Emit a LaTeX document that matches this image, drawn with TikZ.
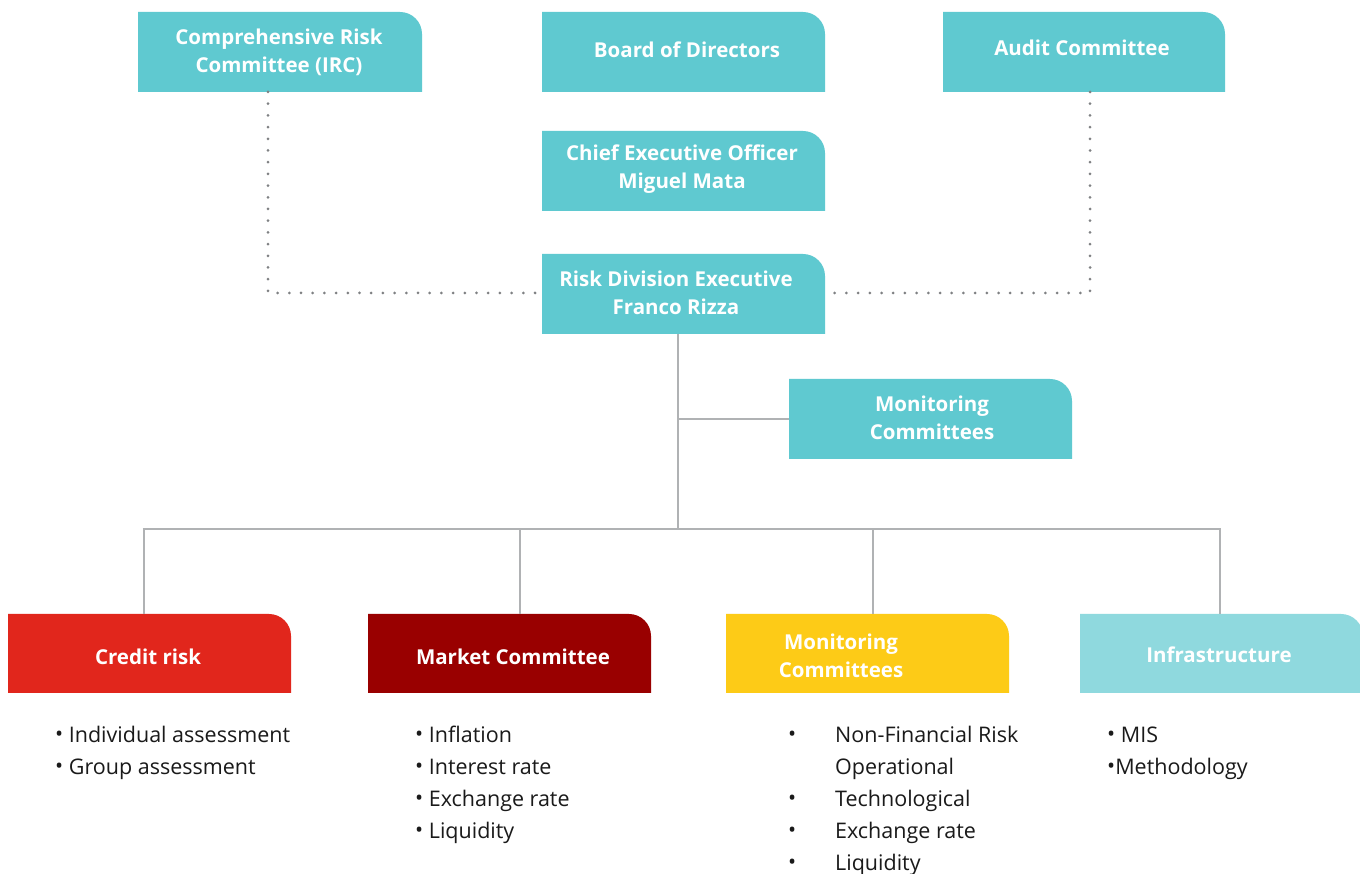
\documentclass[tikz,border=0pt]{standalone}
\usepackage{fontspec}
\setmainfont{Open Sans}
\definecolor{teal1}{HTML}{5FC9D0}
\definecolor{teal2}{HTML}{8FD9DE}
\definecolor{red1}{HTML}{E1261C}
\definecolor{red2}{HTML}{990000}
\definecolor{yel1}{HTML}{FDCB17}
\definecolor{lin}{HTML}{B0B2B4}
\definecolor{dotc}{HTML}{7F8183}
\definecolor{txt}{HTML}{1A1A1A}
\newcommand\cbox[6]{%
  \fill[#6] (#2,{873-#5}) -- (#2,{873-#3}) -- ({#4-22},{873-#3}) arc[start angle=90,end angle=0,radius=22pt] -- (#4,{873-#5}) -- cycle;
  \node[boxnode,minimum width={(#4-#2)*1pt},minimum height={(#5-#3)*1pt}] (#1) at ({(#2+#4)/2},{873-(#3+#5)/2}) {};}
\newcommand\bul{\raisebox{0.5pt}{•}}
\begin{document}
\begin{tikzpicture}[x=1pt,y=1pt,
  boxnode/.style={inner sep=0pt,outer sep=0pt},
  lbl/.style={text=white,font=\fontsize{20.5}{28}\selectfont\bfseries,align=center,inner sep=0pt},
  lst/.style={text=txt,font=\fontsize{21.5}{32}\selectfont,align=left,anchor=base west,inner sep=0pt},
  conn/.style={draw=lin,line width=2.5pt},
  dotline/.style={draw=dotc,line width=3pt,line cap=round,dash pattern=on 0pt off 11.7pt}]
\useasboundingbox (0,0) rectangle (1360,873);
\fill[white] (0,0) rectangle (1360,873);
% boxes
\cbox{irc}{138}{12}{422}{92}{teal1}
\cbox{board}{542}{12}{825}{92}{teal1}
\cbox{audit}{943}{12}{1225}{92}{teal1}
\cbox{ceo}{542}{131}{825}{211}{teal1}
\cbox{risk}{542}{254}{825}{334}{teal1}
\cbox{mon}{789}{379}{1072}{459}{teal1}
\cbox{credit}{8}{614}{291}{693}{red1}
\cbox{market}{368}{614}{651}{693}{red2}
\cbox{ymon}{726}{614}{1009}{693}{yel1}
\cbox{infra}{1080}{614}{1363}{693}{teal2}
% labels
\node[lbl] (tirc) at (279,{873-52}) {Comprehensive Risk\\Committee (IRC)};
\node[lbl] (tboard) at (687,{873-50}) {Board of Directors};
\node[lbl] (taudit) at (1082,{873-48}) {Audit Committee};
\node[lbl] (tceo) at (682,{873-169}) {Chief Executive Officer\\Miguel Mata};
\node[lbl] (trisk) at (676,{873-293}) {Risk Division Executive\\Franco Rizza};
\node[lbl] (tmon) at (932,{873-418}) {Monitoring\\Committees};
\node[lbl] (tcredit) at (148,{873-657}) {Credit risk};
\node[lbl] (tmarket) at (513,{873-657}) {Market Committee};
\node[lbl] (tymon) at (841,{873-656}) {Monitoring\\Committees};
\node[lbl] (tinfra) at (1219,{873-655}) {Infrastructure};
% connectors
\coordinate (trunk) at (678,{873-419});
\coordinate (hub) at (678,{873-529});
\coordinate (v1) at (144,{873-529});
\coordinate (v2) at (520,{873-529});
\coordinate (v3) at (873,{873-529});
\coordinate (v4) at (1220,{873-529});
\draw[conn] (trunk |- risk.south) -- (hub);
\draw[conn] (trunk) -- (trunk -| mon.west);
\draw[conn] ([xshift=-1.25pt]v1) -- ([xshift=1.25pt]v4);
\draw[conn] (v1) -- (v1 |- credit.north);
\draw[conn] (v2) -- (v2 |- market.north);
\draw[conn] (v3) -- (v3 |- ymon.north);
\draw[conn] (v4) -- (v4 |- infra.north);
\coordinate (d1) at (268,{873-293});
\coordinate (d2) at (1090,{873-293});
\draw[dotline] (d1 |- irc.south) -- (d1) -- (d1 -| risk.west);
\draw[dotline] (d2 |- audit.south) -- (d2) -- (d2 -| risk.east);
% lists (base anchor = last line's baseline)
\node[lst] (lcredit) at (55,{873-774}) {\bul\ Individual assessment\\\bul\ Group assessment};
\node[lst] (lmarket) at (415,{873-838}) {\bul\ Inflation\\\bul\ Interest rate\\\bul\ Exchange rate\\\bul\ Liquidity};
\node[lst] (lymon) at (788,{873-870}) {\makebox[47pt][l]{\bul}Non-Financial Risk\\\hspace*{47pt}Operational\\\makebox[47pt][l]{\bul}Technological\\\makebox[47pt][l]{\bul}Exchange rate\\\makebox[47pt][l]{\bul}Liquidity};
\node[lst] (linfra) at (1107,{873-774}) {\bul\ MIS\\\bul Methodology};
\end{tikzpicture}
\end{document}
